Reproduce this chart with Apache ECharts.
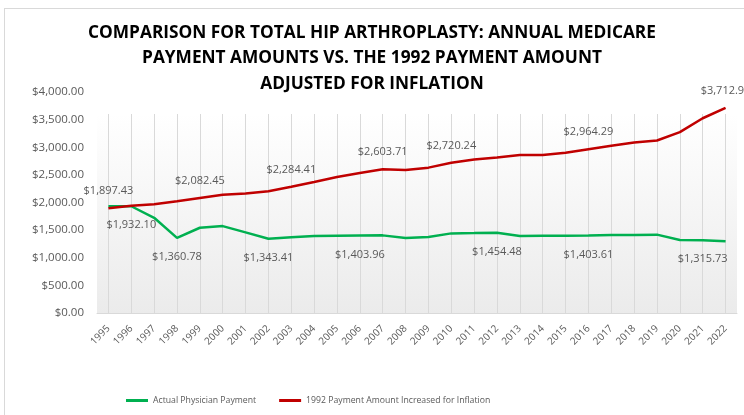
<!DOCTYPE html>
<html>
<head>
<meta charset="utf-8">
<script src="https://cdn.jsdelivr.net/npm/echarts@6/dist/echarts.min.js"></script>
<style>
  html, body { margin: 0; padding: 0; background: #ffffff; }
  #wrap { position: relative; width: 744px; height: 415px; overflow: hidden; }
  #chart { position: absolute; left: 0; top: 0; width: 744px; height: 415px; }
  #frame { position: absolute; left: 4px; top: 8px; width: 800px; height: 500px;
           border-left: 1px solid #d9d9d9; border-top: 1px solid #d9d9d9; pointer-events: none; }
</style>
</head>
<body>
<div id="wrap">
  <div id="chart"></div>
  <div id="frame"></div>
</div>
<script>
const titleText = 'COMPARISON FOR TOTAL HIP ARTHROPLASTY: ANNUAL MEDICARE\nPAYMENT AMOUNTS VS. THE 1992 PAYMENT AMOUNT\nADJUSTED FOR INFLATION';
const years = ['1995','1996','1997','1998','1999','2000','2001','2002','2003','2004','2005','2006','2007','2008',
               '2009','2010','2011','2012','2013','2014','2015','2016','2017','2018','2019','2020','2021','2022'];
const seriesNames = ['Actual Physician Payment', '1992 Payment Amount Increased for Inflation'];
const actualPayment = [1930, 1932.10, 1723, 1360.78, 1543, 1573, 1459, 1343.41, 1369, 1393, 1400, 1403.96, 1405, 1357,
                       1375, 1441, 1447, 1454.48, 1393, 1400, 1400, 1403.61, 1410, 1413, 1418, 1321, 1315.73, 1297];
const inflationAdjusted = [1897.43, 1940, 1969, 2023, 2082.45, 2140, 2162, 2203, 2284.41, 2371, 2462, 2534, 2603.71, 2590,
                           2631, 2720.24, 2780, 2816, 2858, 2858, 2900, 2964.29, 3027, 3087, 3123, 3273, 3525, 3712.94];
const actualLabelYears = ['1996','1998','2002','2006','2012','2016','2021'];
const inflationLabelYears = ['1995','1999','2003','2007','2010','2016','2022'];
const yTicks = { min: 0, max: 4000, interval: 500 };

const fontFamily = '"Open Sans", sans-serif';
const money = v => '$' + v.toLocaleString('en-US', { minimumFractionDigits: 2, maximumFractionDigits: 2 });

function buildData(values, labelYears, position) {
  return values.map((v, i) => {
    if (labelYears.indexOf(years[i]) >= 0) {
      return { value: v, label: { show: true, position: position } };
    }
    return v;
  });
}

const chart = echarts.init(document.getElementById('chart'), null, { renderer: 'canvas' });
chart.setOption({
  animation: false,
  backgroundColor: '#ffffff',
  title: {
    text: titleText,
    left: 'center',
    top: 15,
    textStyle: { fontFamily: fontFamily, fontWeight: 'bold', fontSize: 17.3, color: '#000000', lineHeight: 25.5 }
  },
  legend: {
    bottom: 5,
    left: 121,
    itemWidth: 22,
    itemHeight: 3,
    itemGap: 23,
    icon: 'rect',
    textStyle: { fontFamily: fontFamily, fontSize: 8.7, color: '#595959' },
    data: seriesNames
  },
  grid: [
    {
      left: 97, right: 7, top: 114, bottom: 102,
      show: true,
      borderWidth: 0,
      backgroundColor: new echarts.graphic.LinearGradient(0, 0, 0, 1, [
        { offset: 0, color: '#ffffff' },
        { offset: 1, color: '#ebebeb' }
      ])
    },
    { left: 97, right: 7, top: 92, bottom: 102, show: false }
  ],
  xAxis: [
    {
      gridIndex: 0,
      type: 'category',
      data: years,
      boundaryGap: true,
      axisLine: { show: true, lineStyle: { color: '#d9d9d9', width: 1 } },
      axisTick: { show: false, alignWithLabel: true },
      splitLine: { show: true, alignWithLabel: true, lineStyle: { color: '#d9d9d9', width: 1 } },
      axisLabel: { interval: 0, rotate: 45, margin: 14, fontFamily: fontFamily, fontSize: 10, color: '#595959' }
    },
    {
      gridIndex: 1,
      type: 'category',
      data: years,
      boundaryGap: true,
      show: false
    }
  ],
  yAxis: [
    { gridIndex: 0, type: 'value', show: false, splitLine: { show: false } },
    {
      gridIndex: 1,
      type: 'value',
      min: yTicks.min, max: yTicks.max, interval: yTicks.interval,
      axisLine: { show: false },
      axisTick: { show: false },
      splitLine: { show: false },
      axisLabel: { margin: 13, fontFamily: fontFamily, fontSize: 11.5, color: '#595959', formatter: v => money(v) }
    }
  ],
  series: [
    {
      name: seriesNames[0],
      type: 'line',
      xAxisIndex: 1, yAxisIndex: 1,
      data: buildData(actualPayment, actualLabelYears, 'bottom'),
      symbol: 'circle',
      symbolSize: 0.1,
      showSymbol: true,
      lineStyle: { color: '#00b050', width: 2.5 },
      itemStyle: { color: '#00b050' },
      label: { show: false, distance: 13.5, fontFamily: fontFamily, fontSize: 11, color: '#595959', formatter: p => money(p.value) },
      z: 3
    },
    {
      name: seriesNames[1],
      type: 'line',
      xAxisIndex: 1, yAxisIndex: 1,
      data: buildData(inflationAdjusted, inflationLabelYears, 'top'),
      symbol: 'circle',
      symbolSize: 0.1,
      showSymbol: true,
      lineStyle: { color: '#c00000', width: 2.5 },
      itemStyle: { color: '#c00000' },
      label: { show: false, distance: 11.5, fontFamily: fontFamily, fontSize: 11, color: '#595959', formatter: p => money(p.value) },
      z: 4
    }
  ]
});
</script>
</body>
</html>
